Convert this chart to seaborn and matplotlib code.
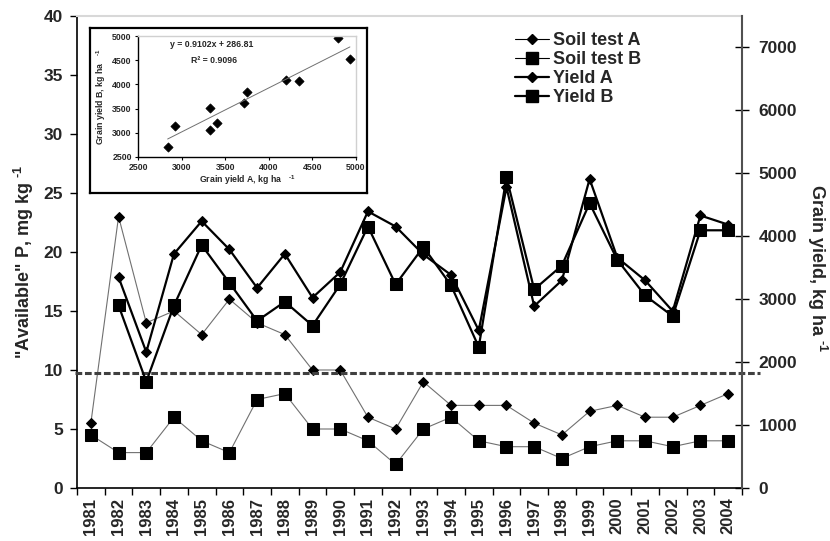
import matplotlib
matplotlib.use("Agg")
import matplotlib.pyplot as plt
from matplotlib.lines import Line2D
import seaborn as sns
import pandas as pd
import numpy as np

# ---- data ----
years = list(range(1981, 2005))
soil_test_a = [5.5, 23, 14, 15, 13, 16, 14, 13, 10, 10, 6, 5, 9, 7, 7, 7, 5.5, 4.5, 6.5, 7, 6, 6, 7, 8]
soil_test_b = [4.5, 3, 3, 6, 4, 3, 7.5, 8, 5, 5, 4, 2, 5, 6, 4, 3.5, 3.5, 2.5, 3.5, 4, 4, 3.5, 4, 4]

yield_years = list(range(1982, 2005))
yield_a = [3350, 2160, 3720, 4240, 3790, 3180, 3720, 3025, 3430, 4395, 4155, 3710,
           3385, 2505, 4780, 2890, 3300, 4910, 3660, 3300, 2810, 4330, 4185]
yield_b = [2900, 1690, 2900, 3860, 3260, 2655, 2960, 2580, 3235, 4155, 3235, 3830,
           3220, 2240, 4940, 3155, 3535, 4525, 3625, 3060, 2730, 4095, 4095]

critical_p = 9.75

inset_yield_a = [2840, 2920, 3320, 3320, 3410, 3720, 3750, 4200, 4350, 4790, 4930]
inset_yield_b = [2710, 3140, 3520, 3050, 3210, 3610, 3840, 4090, 4070, 4950, 4520]
fit_slope, fit_intercept, fit_r2 = 0.9102, 286.81, 0.9096

series_names = ["Soil test A", "Soil test B", "Yield A", "Yield B"]

# ---- style ----
sns.set_theme(style="ticks")
plt.rcParams["font.family"] = ["Liberation Sans", "DejaVu Sans"]
plt.rcParams["font.weight"] = "bold"
plt.rcParams["mathtext.fontset"] = "custom"
plt.rcParams["mathtext.rm"] = "Liberation Sans:bold"
plt.rcParams["mathtext.bf"] = "Liberation Sans:bold"
plt.rcParams["mathtext.default"] = "bf"

SUP = r"$^{\text{-1}}$"

soil_df = pd.DataFrame({"year": years, "a": soil_test_a, "b": soil_test_b})
yield_df = pd.DataFrame({"year": yield_years, "a": yield_a, "b": yield_b})

W, H = 830, 541
fig = plt.figure(figsize=(W / 100, H / 100), dpi=100)
L, R, T, B = 77, 742, 16, 488
ax = fig.add_axes([L / W, 1 - B / H, (R - L) / W, (B - T) / H])
ax2 = ax.twinx()

thin = dict(color="#707070", lw=0.8, markeredgecolor="black", markerfacecolor="black")
thick = dict(color="black", lw=1.6, markeredgecolor="black", markerfacecolor="black")
ms = {"sa": 4.8, "sb": 8, "ya": 5.4, "yb": 8.2}

sns.lineplot(data=soil_df, x="year", y="a", ax=ax, marker="D", markersize=ms["sa"],
             legend=False, **thin)
sns.lineplot(data=soil_df, x="year", y="b", ax=ax, marker="s", markersize=ms["sb"],
             legend=False, **thin)
sns.lineplot(data=yield_df, x="year", y="a", ax=ax2, marker="D", markersize=ms["ya"],
             legend=False, **thick)
sns.lineplot(data=yield_df, x="year", y="b", ax=ax2, marker="s", markersize=ms["yb"],
             legend=False, **thick)

ax.axhline(critical_p, xmin=-0.003, xmax=1.027, clip_on=False, color="#404040",
           lw=2.2, ls=(0, (2.2, 0.9)), zorder=5)

# axes limits and ticks
ax.set_xlim(years[0] - 0.5, years[-1] + 0.5)
ax.set_ylim(0, 40)
ax2.set_ylim(0, 7500)
ax.set_xticks(years)
ax.set_xticklabels([str(y) for y in years], rotation=90, fontsize=12, fontweight="bold")
ax.set_xticks(np.arange(years[0] - 0.5, years[-1] + 1, 1), minor=True)
ax.tick_params(axis="x", which="major", length=0, pad=7)
ax.tick_params(axis="x", which="minor", length=5, width=1, direction="out", color="black")
ax.set_yticks(range(0, 45, 5))
ax.tick_params(axis="y", length=5, width=1, direction="out", pad=5, labelsize=12.5, color="black")
ax2.set_yticks(range(0, 8000, 1000))
ax2.tick_params(axis="y", length=10, width=1, direction="inout", pad=7, labelsize=12.5, color="black")
for lab in ax.get_yticklabels() + ax2.get_yticklabels():
    lab.set_fontweight("bold")
ax.set_xlabel("")
ax.set_ylabel("")
ax2.set_ylabel("")

for s in ["left", "bottom"]:
    ax.spines[s].set_color("black")
    ax.spines[s].set_linewidth(1.2)
ax.spines["top"].set_visible(True)
ax.spines["top"].set_color("#d8d8d8")
ax.spines["top"].set_linewidth(1.5)
ax.spines["right"].set_visible(False)
ax2.spines["right"].set_color("#505050")
ax2.spines["right"].set_linewidth(1.5)
for s in ["left", "bottom", "top"]:
    ax2.spines[s].set_visible(False)

fig.text(24 / W, 1 - 262 / H, '"Available" P, mg kg ' + SUP, rotation=90,
         ha="center", va="center", fontsize=13, fontweight="bold")
fig.text(817 / W, 1 - 268 / H, "Grain yield, kg ha " + SUP, rotation=270,
         ha="center", va="center", fontsize=13, fontweight="bold")

# legend
handles = [
    Line2D([], [], color="black", lw=0.8, marker="D", markersize=ms["sa"]),
    Line2D([], [], color="black", lw=0.8, marker="s", markersize=ms["sb"]),
    Line2D([], [], color="black", lw=1.6, marker="D", markersize=ms["ya"]),
    Line2D([], [], color="black", lw=1.6, marker="s", markersize=ms["yb"]),
]
leg = ax2.legend(handles, series_names,
                 loc="upper left", bbox_to_anchor=((515 - L) / (R - L), 1 - (32 - T) / (B - T)),
                 frameon=False, fontsize=13, handlelength=1.9, handletextpad=0.2,
                 labelspacing=0.12, borderpad=0, borderaxespad=0)
for t in leg.get_texts():
    t.set_fontweight("bold")

# inset: yield B against yield A
box = fig.add_axes([90 / W, 1 - 193 / H, 277 / W, 165 / H])
box.set_xticks([])
box.set_yticks([])
for s in box.spines.values():
    s.set_color("black")
    s.set_linewidth(1.6)
box.set_zorder(3)

axi = fig.add_axes([138 / W, 1 - 157 / H, 218 / W, 121 / H])
axi.set_zorder(4)
inset_df = pd.DataFrame({"A": inset_yield_a, "B": inset_yield_b})
sns.scatterplot(data=inset_df, x="A", y="B", ax=axi, marker="D", s=22,
                color="black", edgecolor="black", linewidth=0.5)
fx = np.array([min(inset_yield_a), max(inset_yield_a)])
axi.plot(fx, fit_slope * fx + fit_intercept, color="#707070", lw=0.7)
axi.set_xlim(2500, 5000)
axi.set_ylim(2500, 5000)
axi.set_xticks(range(2500, 5500, 500))
axi.set_yticks(range(2500, 5500, 500))
axi.tick_params(length=2.5, width=0.8, labelsize=6.3, pad=2, color="black")
for lab in axi.get_xticklabels() + axi.get_yticklabels():
    lab.set_fontweight("bold")
axi.set_xlabel("Grain yield A, kg ha   " + SUP, fontsize=6.3, fontweight="bold", labelpad=1)
axi.set_ylabel("Grain yield B, kg ha   " + SUP, fontsize=6.3, fontweight="bold", labelpad=3)
axi.spines["left"].set_color("black")
axi.spines["bottom"].set_color("black")
axi.spines["top"].set_visible(True)
axi.spines["right"].set_visible(True)
axi.spines["top"].set_color("#d0d0d0")
axi.spines["right"].set_color("#d0d0d0")
for s in axi.spines.values():
    s.set_linewidth(1.0)
axi.text(0.34, 0.93, f"y = {fit_slope}x + {fit_intercept}", transform=axi.transAxes,
         ha="center", va="center", fontsize=6.3, fontweight="bold")
axi.text(0.35, 0.80, f"R\u00b2 = {fit_r2}", transform=axi.transAxes,
         ha="center", va="center", fontsize=6.3, fontweight="bold")

fig.savefig("out.png", dpi=100)
